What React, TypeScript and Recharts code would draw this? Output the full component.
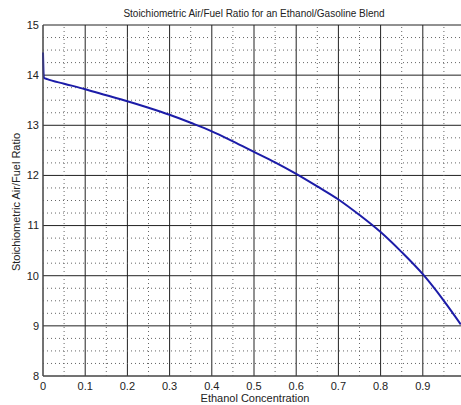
import { LineChart, Line, XAxis, YAxis, CartesianGrid, ReferenceLine } from "recharts";

const ethanol = [0, 0.002, 0.01, 0.05, 0.1, 0.15, 0.2, 0.25, 0.3, 0.35, 0.4, 0.45, 0.5, 0.55, 0.6, 0.65, 0.7, 0.75, 0.8, 0.85, 0.9, 0.95, 0.99];
const afr = [14.45, 13.95, 13.92, 13.83, 13.72, 13.6, 13.48, 13.35, 13.21, 13.05, 12.88, 12.68, 12.47, 12.26, 12.03, 11.78, 11.52, 11.21, 10.87, 10.47, 10.03, 9.5, 9.03];

const xTicks = [0, 0.1, 0.2, 0.3, 0.4, 0.5, 0.6, 0.7, 0.8, 0.9];
const yTicks = [8, 9, 10, 11, 12, 13, 14, 15];
const xMinor = [0.05, 0.15, 0.25, 0.35, 0.45, 0.55, 0.65, 0.75, 0.85, 0.95];
const yMinor = [8.25, 8.5, 8.75, 9.25, 9.5, 9.75, 10.25, 10.5, 10.75, 11.25, 11.5, 11.75, 12.25, 12.5, 12.75, 13.25, 13.5, 13.75, 14.25, 14.5, 14.75];

const data = ethanol.map((x, i) => ({ x, afr: afr[i] }));

const font = "'Liberation Sans', Arial, sans-serif";
const tickStyle = { fontSize: 11, fill: "#222", fontFamily: font };

export default function App() {
  return (
    <div
      style={{
        position: "fixed",
        left: 0,
        top: 0,
        width: 461,
        height: 405,
        overflow: "hidden",
        background: "#fff",
        fontFamily: font,
      }}
    >
      <div style={{ position: "absolute", left: 0, width: 508, top: 8, textAlign: "center", fontSize: 10, color: "#222", whiteSpace: "nowrap" }}>
        Stoichiometric Air/Fuel Ratio for an Ethanol/Gasoline Blend
      </div>
      <div style={{ position: "absolute", left: 0, width: 510, top: 393, lineHeight: "11px", textAlign: "center", fontSize: 11, color: "#222" }}>
        Ethanol Concentration
      </div>
      <div
        style={{
          position: "absolute",
          left: 16,
          top: 202,
          transform: "translate(-50%, -50%) rotate(-90deg)",
          whiteSpace: "nowrap",
          fontSize: 11,
          color: "#222",
        }}
      >
        Stoichiometric Air/Fuel Ratio
      </div>
      <div style={{ position: "absolute", left: 0, top: 0 }}>
        <LineChart width={470} height={405} data={data} margin={{ top: 25, right: 5, bottom: 0, left: 0 }}>
          <CartesianGrid stroke="#222" strokeWidth={1} />
          {xMinor.map((v) => (
            <ReferenceLine key={"vx" + v} x={v} stroke="#666" strokeDasharray="1 3" />
          ))}
          {yMinor.map((v) => (
            <ReferenceLine key={"hy" + v} y={v} stroke="#666" strokeDasharray="1 3" />
          ))}
          <XAxis
            type="number"
            dataKey="x"
            domain={[0, 1]}
            ticks={xTicks}
            interval={0}
            height={29}
            tickLine={false}
            tickSize={4}
            tickMargin={2}
            axisLine={{ stroke: "#555" }}
            tick={tickStyle}
            tickFormatter={(v: number) => String(v)}
          />
          <YAxis
            type="number"
            domain={[8, 15]}
            ticks={yTicks}
            interval={0}
            width={43}
            tickLine={false}
            tickSize={2}
            tickMargin={2}
            axisLine={{ stroke: "#555" }}
            tick={tickStyle}
          />
          <Line
            type="monotone"
            dataKey="afr"
            stroke="#1c1ca8"
            strokeWidth={2}
            dot={false}
            isAnimationActive={false}
          />
        </LineChart>
      </div>
    </div>
  );
}
